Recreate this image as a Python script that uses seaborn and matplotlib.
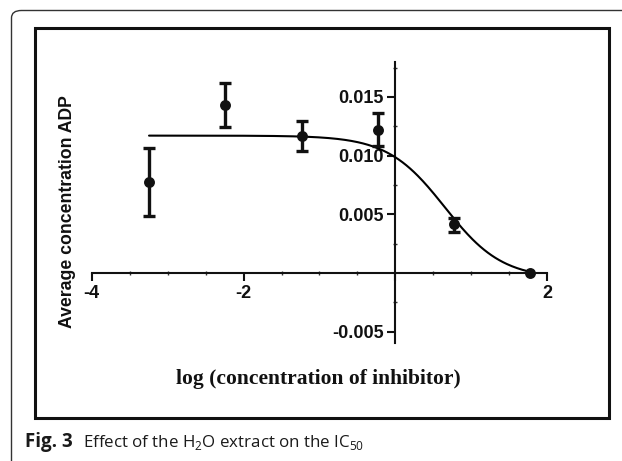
import numpy as np
import matplotlib
matplotlib.use('Agg')
import matplotlib.pyplot as plt
import seaborn as sns
from matplotlib.patches import Rectangle, FancyBboxPatch
from matplotlib.ticker import FixedLocator, MultipleLocator

# measured points (log concentration of inhibitor vs average ADP)
log_conc = [-3.24, -2.24, -1.236, -0.229, 0.77, 1.77]
adp_mean = [0.00778, 0.01433, 0.01168, 0.01219, 0.00413, 0.0]
err_low = [0.00484, 0.01245, 0.01039, 0.01082, 0.00347, 0.0]
err_high = [0.01068, 0.01618, 0.01296, 0.01359, 0.00470, 0.0]

# fitted dose-response curve (4 parameter logistic)
fit_top = 0.0117
fit_bottom = -0.0005
fit_logic50 = 0.65
fit_hill = 1.15
fit_start, fit_end = -3.245, 1.77

y_ticks = [-0.005, 0.005, 0.010, 0.015]
y_ticklabels = ['-0.005', '0.005', '0.010', '0.015']
x_ticks = [-4, -2, 0, 2]
x_ticklabels = ['-4', '-2', '', '2']

sns.set_style('white')
plt.rcParams['font.family'] = ['Liberation Sans', 'DejaVu Sans']
plt.rcParams['mathtext.fontset'] = 'custom'
plt.rcParams['mathtext.rm'] = 'Open Sans'

W, H = 622, 461
fig = plt.figure(figsize=(W / 100, H / 100), dpi=100)

# axes placed so x=-4..2 and y=-0.006..0.018 land where they are in the reference
ax = fig.add_axes([91.7 / W, 1 - 343.3 / H, (547.3 - 91.7) / W, (343.3 - 61.7) / H])
ax.set_xlim(-4, 2)
ax.set_ylim(-0.006, 0.018)
ax.patch.set_alpha(0)

xs = np.linspace(fit_start, fit_end, 300)
ys = fit_bottom + (fit_top - fit_bottom) / (1 + 10 ** ((xs - fit_logic50) * fit_hill))
sns.lineplot(x=xs, y=ys, color='black', linewidth=1.5, ax=ax, zorder=3)

m = slice(0, 5)
means = np.array(adp_mean)
yerr = [means[m] - np.array(err_low)[m], np.array(err_high)[m] - means[m]]
ax.errorbar(log_conc[m], adp_mean[m], yerr=yerr, fmt='none', ecolor='#111111',
            elinewidth=2.4, capsize=4.5, capthick=2.4, zorder=4, clip_on=False)
sns.scatterplot(x=log_conc, y=adp_mean, color='#111111', s=62, edgecolor='#111111',
                linewidth=0, ax=ax, zorder=5, clip_on=False)

for s in ['top', 'right']:
    ax.spines[s].set_visible(False)
ax.spines['left'].set_position(('data', 0))
ax.spines['bottom'].set_position(('data', 0))
ax.spines['left'].set_bounds(-0.006, 0.018)
ax.spines['bottom'].set_bounds(-4, 2)
for s in ['left', 'bottom']:
    ax.spines[s].set_linewidth(1.5)
    ax.spines[s].set_color('#111111')

ax.set_yticks(y_ticks)
ax.set_yticklabels(y_ticklabels)
ax.set_xticks(x_ticks)
ax.set_xticklabels(x_ticklabels)
ax.yaxis.set_minor_locator(FixedLocator([-0.0025, 0.0025, 0.0075, 0.0125, 0.0175]))
ax.xaxis.set_minor_locator(MultipleLocator(0.5))
ax.tick_params(axis='both', which='both', bottom=True, left=True, top=False, right=False)
ax.tick_params(axis='both', which='major', direction='out', length=5.5, width=1.5,
               color='#111111', labelsize=13, pad=3)
ax.tick_params(axis='both', which='minor', direction='inout', length=3.5, width=1,
               color='#333333')
for lab in ax.get_xticklabels() + ax.get_yticklabels():
    lab.set_fontweight('bold')
    lab.set_color('#111111')
ax.set_xlabel('')
ax.set_ylabel('')

fig.text(67 / W, 1 - 212 / H, 'Average concentration ADP', rotation=90, ha='center',
         va='center', fontsize=12.7, fontweight='bold', color='#111111')
fig.text(318 / W, 1 - 379 / H, 'log (concentration of inhibitor)', ha='center',
         va='center', fontsize=15.5, fontweight='bold', color='#111111',
         family=['Liberation Serif', 'DejaVu Serif'])

# black frame around the plot
fig.add_artist(Rectangle((35 / W, 1 - 418 / H), (609 - 35) / W, (418 - 28.5) / H,
                         transform=fig.transFigure, fill=False, edgecolor='#111111',
                         linewidth=2.2))
# caption frame (only left and top edges fall inside the image)
fig.add_artist(FancyBboxPatch((11.5 / W, -0.2), 1.2, 1 - 10.5 / H + 0.2,
                              boxstyle='round,pad=0,rounding_size=0.016',
                              transform=fig.transFigure, fill=False,
                              edgecolor='#333333', linewidth=1.0))

fig.text(25 / W, 1 - 446.7 / H, 'Fig. 3', ha='left', va='baseline', fontsize=13.5,
         fontweight='bold', color='#1a1a1a', family=['Open Sans', 'DejaVu Sans'])
fig.text(83 / W, 1 - 446.7 / H, 'Effect of the H$_2$O extract on the IC$_{50}$',
         ha='left', va='baseline', fontsize=12.2, color='#1a1a1a',
         family=['Open Sans', 'DejaVu Sans'])

fig.savefig('out.png', dpi=100)
